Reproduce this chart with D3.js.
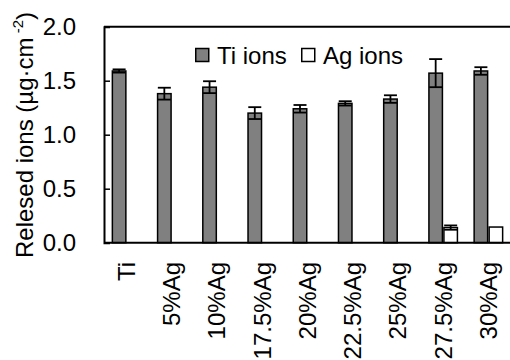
<!DOCTYPE html>
<html>
<head>
<meta charset="utf-8">
<script src="https://cdn.jsdelivr.net/npm/d3@7.9.0/dist/d3.min.js"></script>
<style>
  body { margin: 0; background: #fff; }
  text { font-family: "Liberation Sans", Arial, sans-serif; fill: #000; }
</style>
</head>
<body>
<div id="chart"></div>
<script>
const categories = ['Ti', '5%Ag', '10%Ag', '17.5%Ag', '20%Ag', '22.5%Ag', '25%Ag', '27.5%Ag', '30%Ag'];
const tiValues = [1.59, 1.38, 1.44, 1.20, 1.24, 1.29, 1.33, 1.57, 1.59];
const tiErrors = [0.015, 0.055, 0.055, 0.055, 0.035, 0.02, 0.035, 0.13, 0.035];
const agValues = [null, null, null, null, null, null, null, 0.14, 0.145];
const agErrors = [null, null, null, null, null, null, null, 0.02, 0];
const yTicks = [0, 0.5, 1.0, 1.5, 2.0];
const seriesNames = ['Ti ions', 'Ag ions'];

const width = 510;
const height = 360;
const margin = { top: 26.7, right: -1, bottom: 117.3, left: 104 };
const fontSize = 24;

const svg = d3.select('#chart')
  .append('svg')
  .attr('width', width)
  .attr('height', height);

const xScale = d3.scaleBand()
  .domain(categories)
  .range([margin.left, width - margin.right])
  .padding(0);

const yScale = d3.scaleLinear()
  .domain([0, 2])
  .range([height - margin.bottom, margin.top]);

const barW = 15;
const capW = 13;

// bars: Ti on the left of the group centre, Ag on the right
const rows = categories.map((c, i) => ({
  cat: c, ti: tiValues[i], tiErr: tiErrors[i], ag: agValues[i], agErr: agErrors[i]
}));

const cx = d => xScale(d.cat) + xScale.bandwidth() / 2;

svg.append('g').selectAll('rect')
  .data(rows)
  .join('rect')
  .attr('x', d => cx(d) - barW + 0.75)
  .attr('y', d => yScale(d.ti))
  .attr('width', barW - 1.5)
  .attr('height', d => yScale(0) - yScale(d.ti))
  .attr('fill', '#808080')
  .attr('stroke', '#000')
  .attr('stroke-width', 1.5);

const agRows = rows.filter(d => d.ag != null);
svg.append('g').selectAll('rect')
  .data(agRows)
  .join('rect')
  .attr('x', d => cx(d) + 0.75)
  .attr('y', d => yScale(d.ag))
  .attr('width', barW - 1.5)
  .attr('height', d => yScale(0) - yScale(d.ag))
  .attr('fill', '#fff')
  .attr('stroke', '#000')
  .attr('stroke-width', 1.5);

// error bars
function drawErrors(data, xc, val, err) {
  const g = svg.append('g').attr('stroke', '#000').attr('stroke-width', 1.8);
  data.filter(d => err(d) > 0).forEach(d => {
    const x = xc(d);
    const y0 = yScale(val(d) - err(d));
    const y1 = yScale(val(d) + err(d));
    g.append('line').attr('x1', x).attr('x2', x).attr('y1', y0).attr('y2', y1);
    g.append('line').attr('x1', x - capW / 2).attr('x2', x + capW / 2).attr('y1', y1).attr('y2', y1);
    g.append('line').attr('x1', x - capW / 2).attr('x2', x + capW / 2).attr('y1', y0).attr('y2', y0);
  });
}
drawErrors(rows, d => cx(d) - barW / 2, d => d.ti, d => d.tiErr);
drawErrors(agRows, d => cx(d) + barW / 2, d => d.ag, d => d.agErr);

// frame top line
svg.append('line')
  .attr('x1', margin.left).attr('x2', width)
  .attr('y1', yScale(2)).attr('y2', yScale(2))
  .attr('stroke', '#000').attr('stroke-width', 2);

// y axis, ticks pointing inward
const yAxis = svg.append('g')
  .attr('transform', `translate(${margin.left},0)`)
  .call(d3.axisLeft(yScale).tickValues(yTicks).tickFormat(d3.format('.1f')).tickSize(-6).tickPadding(28));
yAxis.select('.domain').attr('stroke-width', 2);
yAxis.selectAll('.tick line').attr('stroke-width', 1.5);
yAxis.selectAll('text').attr('font-size', fontSize).attr('font-family', '"Liberation Sans", Arial, sans-serif');

// x axis baseline
svg.append('line')
  .attr('x1', margin.left).attr('x2', width)
  .attr('y1', yScale(0)).attr('y2', yScale(0))
  .attr('stroke', '#000').attr('stroke-width', 2);

// x labels rotated
svg.append('g').selectAll('text')
  .data(categories)
  .join('text')
  .attr('transform', d => `translate(${xScale(d) + xScale.bandwidth() / 2},262) rotate(-90)`)
  .attr('text-anchor', 'end')
  .attr('dy', '0.35em')
  .attr('font-size', fontSize)
  .text(d => d);

// y label
const yl = svg.append('text')
  .attr('transform', `translate(33,135) rotate(-90)`)
  .attr('text-anchor', 'middle')
  .attr('font-size', fontSize);
yl.append('tspan').text('Relesed ions (µg·cm');
yl.append('tspan').attr('dy', -10).attr('font-size', 15).text(' -2');
yl.append('tspan').attr('dy', 10).text(')');

// legend
const legend = svg.append('g');
const legendItems = [
  { name: seriesNames[0], fill: '#808080', x: 195 },
  { name: seriesNames[1], fill: '#fff', x: 301 }
];
legendItems.forEach(it => {
  legend.append('rect')
    .attr('x', it.x + 0.75).attr('y', 48.5)
    .attr('width', 13).attr('height', 13)
    .attr('fill', it.fill).attr('stroke', '#000').attr('stroke-width', 1.5);
  legend.append('text')
    .attr('x', it.x + 22).attr('y', 63.5)
    .attr('font-size', fontSize)
    .text(it.name);
});
</script>
</body>
</html>
